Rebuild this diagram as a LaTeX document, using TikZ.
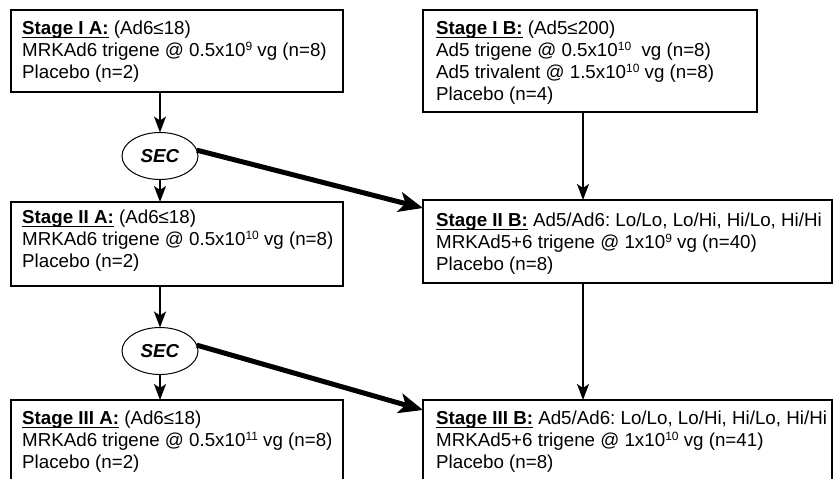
\documentclass[tikz,border=0pt]{standalone}
\usepackage{fontspec}
\setmainfont{Liberation Sans}
\usetikzlibrary{arrows.meta,calc,shapes.geometric}
\newcommand\stageul[1]{\setbox0\hbox{\textbf{#1}}\rlap{\rule[-3.2pt]{\wd0}{1.6pt}}\box0\relax}
\newcommand\supr[1]{\raisebox{6.5pt}{\fontsize{12}{12}\selectfont #1}}
\frenchspacing
\begin{document}
\begin{tikzpicture}[x=1pt,y=-1pt,
  box/.style={draw,line width=2.5pt,rectangle,inner sep=0pt,outer sep=0pt,anchor=north west},
  txt/.style={anchor=north west,inner sep=0pt,align=left,font=\fontsize{18.75}{22}\selectfont},
  sec/.style={draw,ellipse,line width=1pt,minimum width=76pt,minimum height=47pt,inner sep=0pt,outer sep=0pt,font=\fontsize{18.75}{22}\selectfont\bfseries\itshape},
  thinarrow/.style={line width=2pt,-{Stealth[length=16pt,width=12pt,inset=4pt]}},
  thickarrow/.style={line width=5pt,-{Stealth[length=24pt,width=20pt,inset=6pt]}}]
\useasboundingbox (0,0) rectangle (833,479);
\clip (0,0) rectangle (833,479);
% boxes
\node[box,minimum width=332pt,minimum height=82pt] (IA) at (11,10) {};
\node[box,minimum width=334pt,minimum height=102pt] (IB) at (423,10) {};
\node[box,minimum width=332pt,minimum height=84pt] (IIA) at (11,202) {};
\node[box,minimum width=409pt,minimum height=83pt] (IIB) at (423,200) {};
\node[box,minimum width=332pt,minimum height=100pt] (IIIA) at (11,400) {};
\node[box,minimum width=409pt,minimum height=100pt] (IIIB) at (423,400) {};
% texts
\node[txt] (tIA) at ($(IA.north west)+(11,9.3)$) {\strut\stageul{Stage I A:} (Ad6≤18)\\MRKAd6 trigene @ 0.5x10\supr{9} vg (n=8)\\Placebo (n=2)};
\node[txt] (tIB) at ($(IB.north west)+(13,9.3)$) {\strut\stageul{Stage I B:} (Ad5≤200)\\Ad5 trigene @ 0.5x10\supr{10}\ \ vg (n=8)\\Ad5 trivalent @ 1.5x10\supr{10} vg (n=8)\\Placebo (n=4)};
\node[txt] (tIIA) at ($(IIA.north west)+(11,6.3)$) {\strut\stageul{Stage II A:} (Ad6≤18)\\MRKAd6 trigene @ 0.5x10\supr{10} vg (n=8)\\Placebo (n=2)};
\node[txt] (tIIB) at ($(IIB.north west)+(13,11.3)$) {\strut\stageul{Stage II B:} Ad5/Ad6: Lo/Lo, Lo/Hi, Hi/Lo, Hi/Hi\\MRKAd5+6 trigene @ 1x10\supr{9} vg (n=40)\\Placebo (n=8)};
\node[txt] (tIIIA) at ($(IIIA.north west)+(11,9.3)$) {\strut\stageul{Stage III A:} (Ad6≤18)\\MRKAd6 trigene @ 0.5x10\supr{11} vg (n=8)\\Placebo (n=2)};
\node[txt] (tIIIB) at ($(IIIB.north west)+(13,9.3)$) {\strut\stageul{Stage III B:} Ad5/Ad6: Lo/Lo, Lo/Hi, Hi/Lo, Hi/Hi\\MRKAd5+6 trigene @ 1x10\supr{10} vg (n=41)\\Placebo (n=8)};
% SEC ellipses
\node[sec] (e1) at (160,156) {SEC};
\node[sec] (e2) at (160,351) {SEC};
% connectors
\draw[thinarrow] (IA.south -| e1.north) -- (e1.north);
\draw[thinarrow] (e1.south) -- (e1.south |- IIA.north);
\draw[thinarrow] (IIA.south -| e2.north) -- (e2.north);
\draw[thinarrow] (e2.south) -- (e2.south |- IIIA.north);
\coordinate (bx) at (583,0);
\draw[thinarrow] (IB.south -| bx) -- (IIB.north -| bx);
\draw[thinarrow] (IIB.south -| bx) -- (IIIB.north -| bx);
\draw[thickarrow] (e1.9) -- ($(IIB.north west)+(0,8)$);
\draw[thickarrow] (e2.9) -- ($(IIIB.north west)+(0,10)$);
\end{tikzpicture}
\end{document}
